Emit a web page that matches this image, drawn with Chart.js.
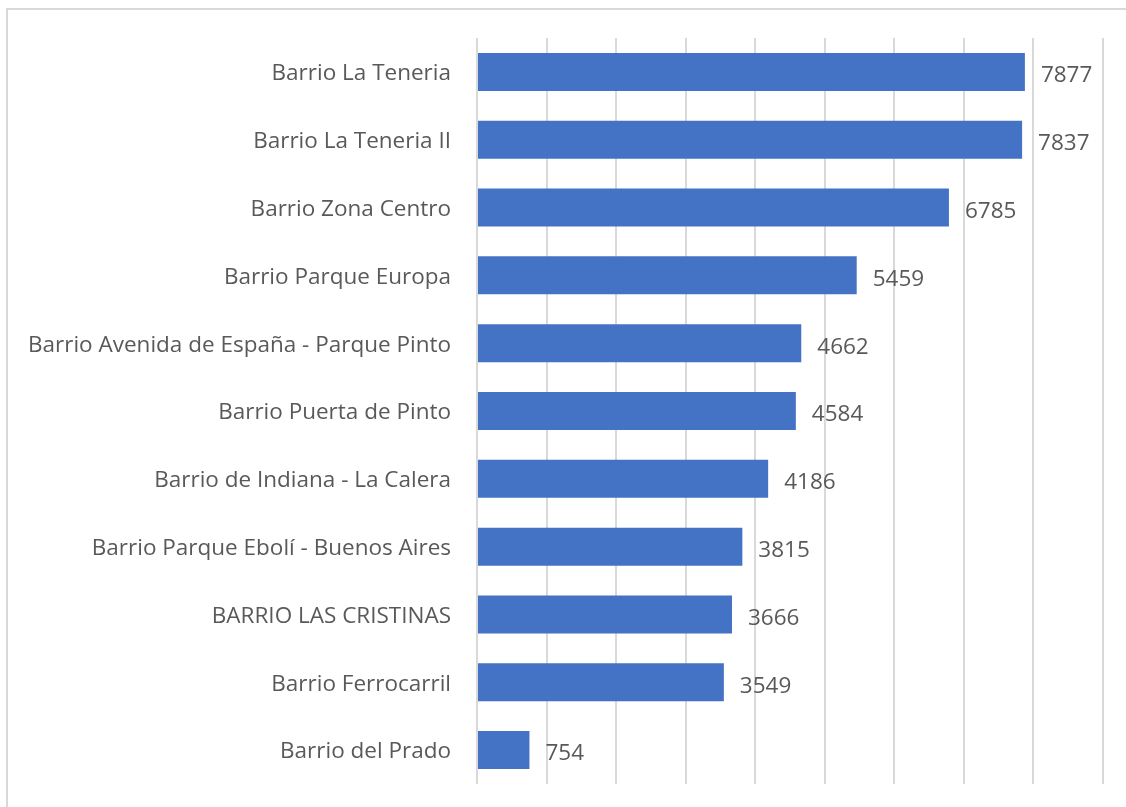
<!DOCTYPE html>
<html>
<head>
<meta charset="utf-8">
<script src="https://cdn.jsdelivr.net/npm/chart.js@4/dist/chart.umd.min.js"></script>
<style>
html,body{margin:0;padding:0;background:#fff;overflow:hidden;}
#wrap{position:relative;width:1126px;height:807px;}
#frame{position:absolute;left:6px;top:8px;width:1300px;height:1000px;border:2px solid #d9d9d9;box-sizing:border-box;}
canvas{position:absolute;left:0;top:0;}
</style>
</head>
<body>
<div id="wrap">
<div id="frame"></div>
<canvas id="c" width="1126" height="807"></canvas>
</div>
<script>
const categories = [
  "Barrio La Teneria",
  "Barrio La Teneria II",
  "Barrio Zona Centro",
  "Barrio Parque Europa",
  "Barrio Avenida de España - Parque Pinto",
  "Barrio Puerta de Pinto",
  "Barrio de Indiana - La Calera",
  "Barrio Parque Ebolí - Buenos Aires",
  "BARRIO LAS CRISTINAS",
  "Barrio Ferrocarril",
  "Barrio del Prado"
];
const values = [7877, 7837, 6785, 5459, 4662, 4584, 4186, 3815, 3666, 3549, 754];
const axisMax = 9000;
const axisStep = 1000;

const FONT = "'Open Sans', 'Noto Sans', sans-serif";

const dataLabels = {
  id: 'dataLabels',
  afterDatasetsDraw(chart) {
    const ctx = chart.ctx;
    const meta = chart.getDatasetMeta(0);
    ctx.save();
    ctx.font = "22.5px " + FONT;
    ctx.fillStyle = "#595959";
    ctx.textBaseline = "middle";
    ctx.textAlign = "left";
    meta.data.forEach((bar, i) => {
      ctx.fillText(String(values[i]), bar.x + 16, bar.y + 4);
    });
    ctx.restore();
  }
};

new Chart(document.getElementById('c'), {
  type: 'bar',
  data: {
    labels: categories,
    datasets: [{
      data: values,
      backgroundColor: '#4472c4',
      borderWidth: 0,
      categoryPercentage: 1,
      barPercentage: 0.56
    }]
  },
  options: {
    indexAxis: 'y',
    responsive: false,
    animation: false,
    events: [],
    layout: { padding: { left: 0, right: 23, top: 38, bottom: 23 } },
    plugins: { legend: { display: false }, tooltip: { enabled: false } },
    scales: {
      x: {
        min: 0, max: axisMax,
        ticks: { display: false, stepSize: axisStep },
        grid: { color: '#d9d9d9', lineWidth: 2, drawTicks: false },
        border: { display: false },
        afterFit(s) { s.height = 0; s.paddingLeft = 0; s.paddingRight = 0; }
      },
      y: {
        ticks: { color: '#595959', font: { size: 22.5, family: FONT }, padding: 26, autoSkip: false, labelOffset: 2 },
        grid: { display: false, drawTicks: false },
        border: { display: false },
        afterFit(s) { s.width = 477; s.paddingTop = 0; s.paddingBottom = 0; }
      }
    }
  },
  plugins: [dataLabels]
});
</script>
</body>
</html>
